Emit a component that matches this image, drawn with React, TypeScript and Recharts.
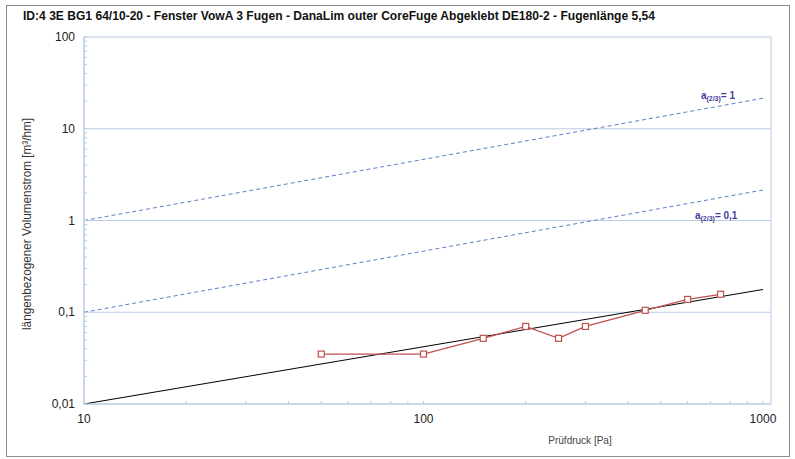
import React from "react";
import { ComposedChart, Line, XAxis, YAxis, ReferenceLine, ReferenceArea, ReferenceDot } from "recharts";

// Messwerte: Prüfdruck [Pa] / längenbezogener Volumenstrom [m³/hm]
const messDruck = [50, 100, 150, 200, 250, 300, 450, 600, 750];
const messVolumen = [0.035, 0.035, 0.052, 0.07, 0.052, 0.07, 0.105, 0.138, 0.157];

// Ausgleichsgerade (Endpunkte)
const fitDruck = [10, 1000];
const fitVolumen = [0.01, 0.177];

// Grenzlinien a(2/3) = 1 und a(2/3) = 0,1
const grenzDruck = [10, 1000];
const grenzA1 = [1, 21.5];
const grenzA01 = [0.1, 2.15];

const xTicks = [10, 20, 30, 40, 50, 60, 70, 80, 90, 100, 200, 300, 400, 500, 600, 700, 800, 900, 1000];
const xLabels = [10, 100, 1000];
const yTicks = [
  0.01, 0.02, 0.03, 0.04, 0.05, 0.06, 0.07, 0.08, 0.09,
  0.1, 0.2, 0.3, 0.4, 0.5, 0.6, 0.7, 0.8, 0.9,
  1, 2, 3, 4, 5, 6, 7, 8, 9,
  10, 20, 30, 40, 50, 60, 70, 80, 90, 100,
];
const yLabels = [0.01, 0.1, 1, 10, 100];
const yGrid = [0.1, 1, 10];

const mess = messDruck.map((x, i) => ({ x, y: messVolumen[i] }));
const fit = fitDruck.map((x, i) => ({ x, y: fitVolumen[i] }));
const a1 = grenzDruck.map((x, i) => ({ x, y: grenzA1[i] }));
const a01 = grenzDruck.map((x, i) => ({ x, y: grenzA01[i] }));

const FONT = '"Liberation Sans", Arial, sans-serif';
const GRID = "#b8cce4";
const DASH = "#5b7fc7";
const ANNO = "#3f3f9b";
const RED = "#c0504d";

const fmt = (v: number) => String(v).replace(".", ",");

function XTick(props: any) {
  const { x, y, payload } = props;
  const v = payload.value;
  return (
    <g>
      <line x1={x} x2={x} y1={y} y2={y - 3} stroke={GRID} />
      {xLabels.includes(v) && (
        <text x={x} y={y + 19} textAnchor="middle" fontSize={12} fontFamily={FONT} fill="#222">
          {fmt(v)}
        </text>
      )}
    </g>
  );
}

function YTick(props: any) {
  const { x, y, payload } = props;
  const v = payload.value;
  return (
    <g>
      <line x1={x} x2={x + 3} y1={y} y2={y} stroke={GRID} />
      {yLabels.includes(v) && (
        <text x={x - 9} y={y + 4} textAnchor="end" fontSize={12} fontFamily={FONT} fill="#222">
          {fmt(v)}
        </text>
      )}
    </g>
  );
}

function Square(props: any) {
  const { cx, cy, index } = props;
  if (cx == null || cy == null) return <g key={index} />;
  return <rect key={index} x={cx - 3} y={cy - 3} width={6} height={6} fill="#fff" stroke={RED} strokeWidth={1.2} />;
}

const annoLabel = (wert: string) => (p: any) => {
  const vb = p.viewBox || {};
  const cx = (vb.x ?? 0) + (vb.width ?? 0) / 2;
  const cy = (vb.y ?? 0) + (vb.height ?? 0) / 2;
  return (
    <text x={cx} y={cy + 3} textAnchor="middle" fontFamily={FONT} fontWeight="bold" fontSize={10} fill={ANNO}>
      <tspan>a</tspan>
      <tspan fontSize={7} dy={2}>(2/3)</tspan>
      <tspan dy={-2}>{"= " + wert}</tspan>
    </text>
  );
};

export default function App() {
  return (
    <div style={{ position: "absolute", left: 0, top: 0, width: 795, height: 459, background: "#fff" }}>
      <svg width={795} height={459} style={{ position: "absolute", left: 0, top: 0 }}>
        <rect x={6.5} y={5.5} width={783} height={451} fill="none" stroke="#8c8c8c" />
        <text x={23} y={20} fontFamily={FONT} fontWeight="bold" fontSize={13} fill="#111" textLength={632} lengthAdjust="spacingAndGlyphs">
          ID:4 3E BG1 64/10-20 - Fenster VowA 3 Fugen - DanaLim outer CoreFuge Abgeklebt DE180-2 - Fugenlänge 5,54
        </text>
        <text x={31} y={224} transform="rotate(-90 31 224)" textAnchor="middle" fontFamily={FONT} fontSize={12} fill="#333" textLength={212} lengthAdjust="spacingAndGlyphs">
          längenbezogener Volumenstrom  [m³/hm]
        </text>
        <text x={580} y={444} textAnchor="middle" fontFamily={FONT} fontSize={10} fill="#444">
          Prüfdruck [Pa]
        </text>
      </svg>
      <div style={{ position: "absolute", left: 0, top: 0 }}>
        <ComposedChart width={795} height={459} margin={{ top: 37, right: 24, bottom: 0, left: 0 }}>
          <XAxis
            dataKey="x"
            type="number"
            scale="log"
            domain={[10, 1056]}
            allowDataOverflow
            ticks={xTicks}
            interval={0}
            tick={<XTick />}
            tickSize={0}
            tickMargin={0}
            tickLine={false}
            axisLine={{ stroke: GRID }}
            height={55}
          />
          <YAxis
            dataKey="y"
            type="number"
            scale="log"
            domain={[0.01, 100]}
            allowDataOverflow
            ticks={yTicks}
            interval={0}
            tick={<YTick />}
            tickSize={0}
            tickMargin={0}
            tickLine={false}
            axisLine={{ stroke: GRID }}
            width={84}
          />
          <ReferenceArea x1={10} x2={1056} y1={0.01} y2={100} fill="none" stroke={GRID} ifOverflow="visible" />
          {yGrid.map((v) => (
            <ReferenceLine key={v} y={v} stroke={GRID} strokeWidth={1} />
          ))}
          <Line data={a1} dataKey="y" stroke={DASH} strokeWidth={1} strokeDasharray="4 3" dot={false} isAnimationActive={false} />
          <Line data={a01} dataKey="y" stroke={DASH} strokeWidth={1} strokeDasharray="4 3" dot={false} isAnimationActive={false} />
          <Line data={fit} dataKey="y" stroke="#000" strokeWidth={1} dot={false} isAnimationActive={false} />
          <Line data={mess} dataKey="y" stroke={RED} strokeWidth={1.3} dot={<Square />} isAnimationActive={false} />
          <ReferenceDot x={737} y={22.7} r={0} fill="none" stroke="none" label={annoLabel("1")} />
          <ReferenceDot x={728} y={1.12} r={0} fill="none" stroke="none" label={annoLabel("0,1")} />
        </ComposedChart>
      </div>
    </div>
  );
}
